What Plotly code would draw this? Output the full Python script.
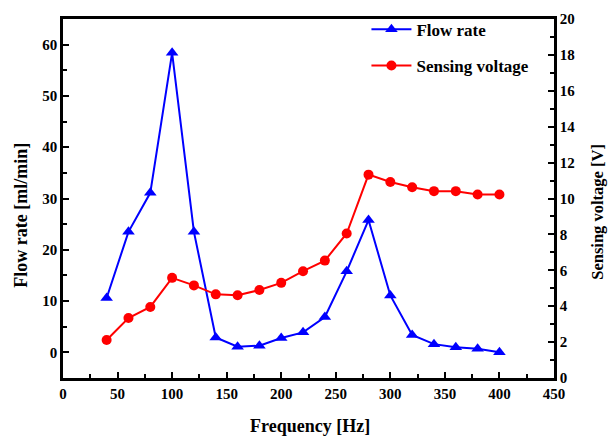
import plotly.graph_objects as go

freq = [40, 60, 80, 100, 120, 140, 160, 180, 200, 220, 240, 260, 280, 300, 320, 340, 360, 380, 400]
flow_rate = [10.6, 23.5, 31.1, 58.4, 23.5, 2.9, 1.1, 1.3, 2.8, 3.9, 6.9, 15.8, 25.8, 11.1, 3.4, 1.6, 1.0, 0.7, 0.0]
sensing_voltage = [2.12, 3.34, 3.96, 5.58, 5.16, 4.66, 4.61, 4.90, 5.30, 5.95, 6.54, 8.05, 11.33, 10.92, 10.63, 10.41, 10.41, 10.22, 10.22]
x_ticks = [0, 50, 100, 150, 200, 250, 300, 350, 400, 450]
y1_ticks = [0, 10, 20, 30, 40, 50, 60]
y2_ticks = [0, 2, 4, 6, 8, 10, 12, 14, 16, 18, 20]

FONT = "Liberation Serif"

fig = go.Figure()
fig.add_trace(go.Scatter(
    x=freq, y=flow_rate, name="<b>Flow rate</b>", mode="lines+markers",
    line=dict(color="#0000ff", width=2), legendgroup="a",
    marker=dict(symbol="triangle-up", size=11, color="#0000ff"),
    yaxis="y",
))
fig.add_trace(go.Scatter(
    x=freq, y=sensing_voltage, name="<b>Sensing voltage</b>", mode="lines+markers",
    line=dict(color="#ff0000", width=2), legendgroup="b",
    marker=dict(symbol="circle", size=10, color="#ff0000"),
    yaxis="y2",
))

axis_common = dict(
    showgrid=False, zeroline=False, showline=True, linecolor="black", linewidth=2.5,
    ticks="inside", ticklen=6, tickwidth=2, tickcolor="black",
    tickfont=dict(family=FONT, size=15, color="black"),
)

title_font = dict(family=FONT, size=18, color="black")

fig.update_layout(
    width=611, height=436,
    margin=dict(l=63, r=57, t=15, b=58),
    plot_bgcolor="white", paper_bgcolor="white",
    font=dict(family=FONT, color="black"),
    showlegend=True,
    legend=dict(x=0.618, y=1.02, xanchor="left", yanchor="top",
                font=dict(family=FONT, size=17, color="black"),
                bgcolor="rgba(0,0,0,0)", tracegroupgap=11, itemwidth=40),
    xaxis=dict(
        range=[0, 450], tickvals=x_ticks,
        ticktext=["<b>%d</b>" % v for v in x_ticks],
        minor=dict(dtick=25, ticks="inside", ticklen=4, tickwidth=2, tickcolor="black"),
        mirror=True,
        **axis_common,
    ),
    yaxis=dict(
        range=[-5, 65], tickvals=y1_ticks,
        ticktext=["<b>%d</b>" % v for v in y1_ticks],
        minor=dict(dtick=5, tick0=0, ticks="inside", ticklen=4, tickwidth=2, tickcolor="black"),
        **axis_common,
    ),
    yaxis2=dict(
        range=[0, 20], tickvals=y2_ticks,
        ticktext=["<b>%d</b>" % v for v in y2_ticks],
        minor=dict(dtick=1, ticks="inside", ticklen=4, tickwidth=2, tickcolor="black"),
        overlaying="y", side="right",
        **axis_common,
    ),
    annotations=[
        dict(text="<b>Frequency [Hz]</b>", xref="paper", yref="paper", x=0.503, y=-0.135,
             showarrow=False, font=title_font, xanchor="center", yanchor="middle"),
        dict(text="<b>Flow rate [ml/min]</b>", xref="paper", yref="paper", x=-0.0855, y=0.452,
             showarrow=False, font=title_font, textangle=-90, xanchor="center", yanchor="middle"),
        dict(text="<b>Sensing voltage [V]</b>", xref="paper", yref="paper", x=1.0896, y=0.463,
             showarrow=False, font=dict(family=FONT, size=16.5, color="black"), textangle=-90,
             xanchor="center", yanchor="middle"),
    ],
)

fig.write_html("out.html", config={"displayModeBar": False},
               post_script="document.body.style.margin='0';document.body.style.overflow='hidden';")
